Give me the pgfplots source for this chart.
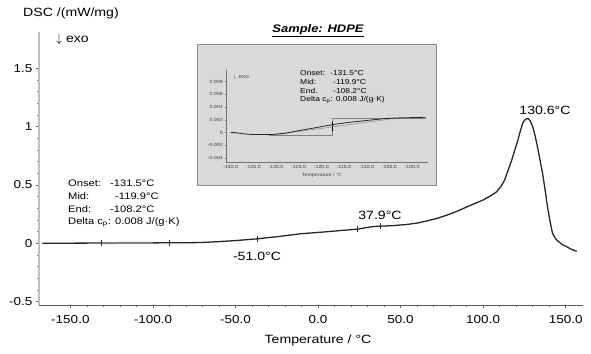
\documentclass[border=0pt]{standalone}
\usepackage{pgfplots}
\pgfplotsset{compat=1.18}
\usepackage{fontspec}
\setmainfont{Liberation Sans}[FakeStretch=1.18]
\pgfplotstableread{
T v
-167 0.000
-150 0.000
-131.5 0.001
-110 0.002
-90 0.003
-72 0.005
-61.5 0.012
-50 0.022
-37 0.037
-25 0.055
-11 0.080
0 0.092
7 0.100
15 0.110
24 0.120
30 0.135
34 0.143
38 0.146
45 0.150
53.6 0.160
60 0.172
65.8 0.190
72 0.212
78 0.240
84 0.272
90 0.31
95 0.34
100 0.37
105 0.41
108.2 0.44
111 0.49
113 0.54
115 0.62
117.3 0.71
119 0.79
121 0.88
122.5 0.96
124 1.03
125.5 1.06
127 1.07
128.5 1.05
130 1.00
131.5 0.92
133 0.82
134.5 0.71
136 0.60
137.5 0.46
139 0.31
140.5 0.19
142 0.086
144 0.035
146 0.01
148 -0.012
150.6 -0.03
153 -0.05
156.7 -0.07
}\maindata
\pgfplotstableread{
T v
-140 0.0000
-139 0.0000
-137 -0.0002
-135 -0.0003
-131 -0.0003
-128 -0.0001
-125 0.0003
-121 0.0008
-118 0.0012
-114 0.0016
-110 0.0019
-106 0.0022
-103 0.0023
-97 0.0024
}\insetdata
\begin{document}
\begin{tikzpicture}
\path[use as bounding box] (0bp,0bp) rectangle (591bp,354bp);
\begin{axis}[
  at={(39bp,49bp)}, anchor=south west, scale only axis,
  width=544bp, height=273bp,
  xmin=-169, xmax=160.5, ymin=-0.53, ymax=1.81,
  axis lines*=left,
  x axis line style={draw=black!65, line width=0.8pt},
  y axis line style={draw=black!25, line width=1.8pt},
  xtick={-150,-100,-50,0,50,100,150},
  xticklabels={-150.0,-100.0,-50.0,0.0,50.0,100.0,150.0},
  ytick={-0.5,0,0.5,1,1.5},
  yticklabels={-0.5,0,0.5,1,1.5},
  minor x tick num=4, minor y tick num=4,
  tick align=outside,
  major tick length=3bp, minor tick length=2bp,
  tick style={black!60, line width=0.5pt},
  ticklabel style={font=\fontsize{11.5}{13}\selectfont},
  xticklabel style={yshift=-4bp},
  clip=false,
]
\addplot[black!85, line width=1.3pt] table[x=T, y=v] {\maindata};
\addplot[black!50, line width=2pt] coordinates {(-131.5,0.001) (-100,0.0025)};
\addplot[only marks, mark=|, mark size=3bp, mark options={black!80, line width=0.6pt}] coordinates {
 (-131.5,0.001) (-90,0.003) (-37,0.037) (24,0.12) (38,0.146)};
\end{axis}

% labels
\node[anchor=west, inner sep=0pt] at (23bp,341bp) {\fontsize{12}{14}\selectfont DSC /(mW/mg)};
\node[anchor=west, inner sep=0pt] at (56bp,314bp) {\fontsize{12}{14}\selectfont $\downarrow$\ exo};
\node at (318bp,14bp) {\fontsize{12}{14}\selectfont Temperature / °C};
\begin{scope}[every node/.style={anchor=west, inner sep=0pt, font=\fontsize{9.5}{12}\selectfont}]
\node at (68bp,171bp) {Onset:};
\node at (110bp,171bp) {-131.5°C};
\node at (68bp,158bp) {Mid:};
\node at (115bp,158bp) {-119.9°C};
\node at (68bp,145bp) {End:};
\node at (110bp,145bp) {-108.2°C};
\node at (68bp,132bp) {Delta c\textsubscript{p}: 0.008 J/(g·K)};
\end{scope}
\node at (257bp,98bp) {\fontsize{12}{14}\selectfont -51.0°C};
\node at (380bp,139bp) {\fontsize{12}{14}\selectfont 37.9°C};
\node at (545bp,244bp) {\fontsize{12}{14}\selectfont 130.6°C};

% inset
\node at (318bp,323bp) {\fontsize{11}{13}\selectfont\bfseries\itshape\underline{Sample: HDPE}};
\fill[black!15, draw=black!45, line width=0.8pt] (197bp,169bp) rectangle (436bp,310bp);
\begin{axis}[
  at={(226bp,192bp)}, anchor=south west, scale only axis,
  width=202bp, height=92bp,
  xmin=-141, xmax=-96.5, ymin=-0.0046, ymax=0.0098,
  axis lines*=left,
  axis line style={black!55, line width=0.5pt},
  xtick={-140,-135,-130,-125,-120,-115,-110,-105,-100},
  xticklabels={-140.0,-135.0,-130.0,-125.0,-120.0,-115.0,-110.0,-105.0,-100.0},
  ytick={-0.004,-0.002,0,0.002,0.004,0.006,0.008},
  yticklabels={-0.004,-0.002,0,0.002,0.004,0.006,0.008},
  scaled y ticks=false,
  tick align=outside,
  major tick length=1.5bp,
  tick style={black!55, line width=0.4pt},
  ticklabel style={font=\fontsize{4.5}{5}\selectfont, text=black!75, inner sep=1.5pt},
  clip=false,
]
\addplot[black!50, line width=0.5pt] coordinates {(-131.5,-0.00045) (-117.5,-0.00045) (-117.5,0.0022) (-97,0.0022)};
\addplot[black!45, line width=0.5pt] coordinates {(-131,-0.0004) (-105,0.0021)};
\addplot[black!85, line width=0.8pt] table[x=T, y=v] {\insetdata};
\addplot[black, line width=0.8pt] coordinates {(-117.5,0.0003) (-117.5,0.0017)};
\end{axis}
\node at (241bp,277bp) {\fontsize{5.5}{6}\selectfont\color{black!70}$\downarrow$\ exo};
\node at (322bp,179bp) {\fontsize{4.5}{5}\selectfont\color{black!75}Temperature / °C};
\begin{scope}[every node/.style={anchor=west, inner sep=0pt, font=\fontsize{7.2}{8.5}\selectfont}]
\node at (300bp,281bp) {Onset:};
\node at (330bp,281bp) {-131.5°C};
\node at (300bp,272bp) {Mid:};
\node at (333bp,272bp) {-119.9°C};
\node at (300bp,263bp) {End.};
\node at (333bp,263bp) {-108.2°C};
\node at (300bp,254bp) {Delta c\textsubscript{p}: 0.008 J/(g·K)};
\end{scope}
\end{tikzpicture}
\end{document}
